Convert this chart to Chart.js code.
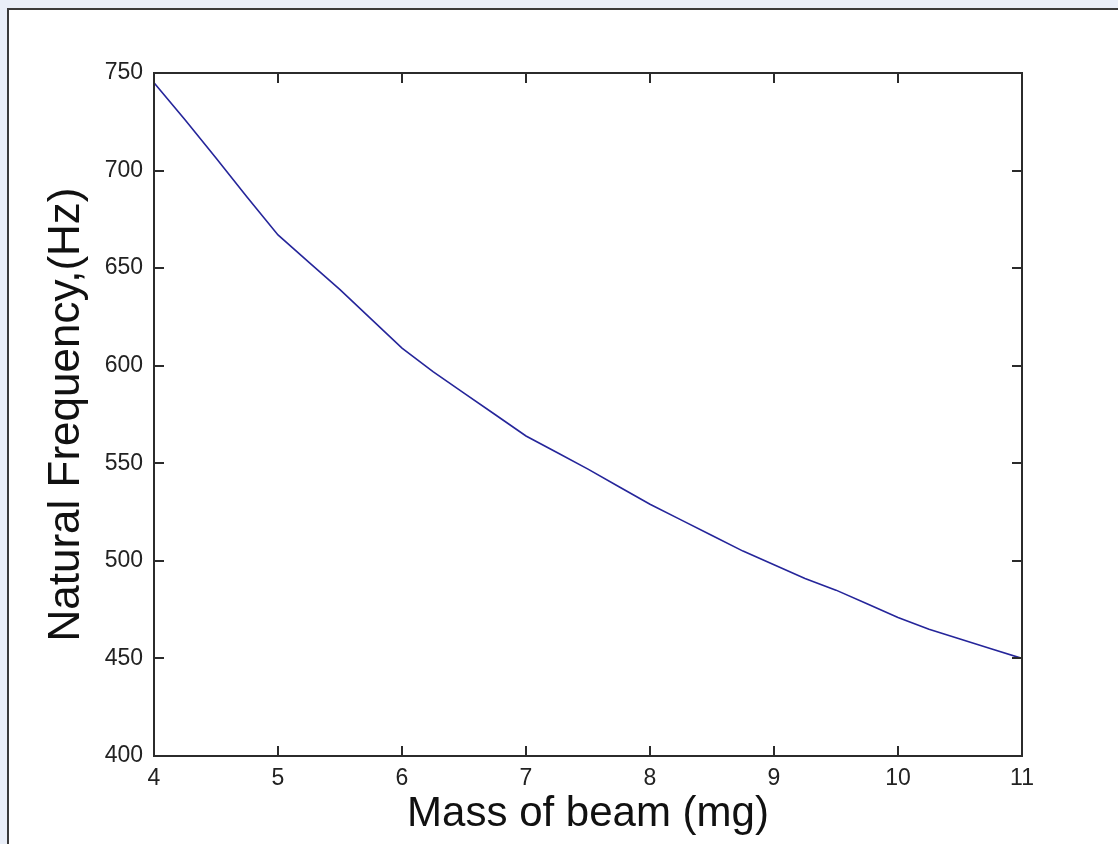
<!DOCTYPE html>
<html>
<head>
<meta charset="utf-8">
<script src="https://cdn.jsdelivr.net/npm/chart.js@4.4.1/dist/chart.umd.min.js"></script>
<style>
  html, body { margin: 0; padding: 0; background: #e9eef8; width: 1118px; height: 844px; overflow: hidden; }
  #frame { position: absolute; left: 7px; top: 8px; width: 1120px; height: 850px; background: #ffffff;
           border-top: 2px solid #3a3a3a; border-left: 2px solid #3a3a3a; }
  #c { position: absolute; left: 0; top: 0; }
</style>
</head>
<body>
<div id="frame"></div>
<canvas id="c" width="1118" height="844"></canvas>
<script>
// Mass of beam (mg)
const massValues = [4.0, 4.25, 4.5, 4.75, 5.0, 5.25, 5.5, 5.75, 6.0, 6.25, 6.5, 6.75, 7.0, 7.25, 7.5, 7.75,
                    8.0, 8.25, 8.5, 8.75, 9.0, 9.25, 9.5, 9.75, 10.0, 10.25, 10.5, 10.75, 11.0];
// Natural frequency (Hz)
const freqValues = [745, 726, 706.5, 686.5, 667, 653, 639, 624, 609, 597, 586, 575, 564, 555.5, 547, 538,
                    529, 521, 513, 505, 498, 491, 485, 478, 471, 465, 460, 455, 450];
const xTicks = [4, 5, 6, 7, 8, 9, 10, 11];
const yTicks = [400, 450, 500, 550, 600, 650, 700, 750];
const xTitle = 'Mass of beam (mg)';
const yTitle = 'Natural Frequency,(Hz)';

const points = massValues.map((m, i) => ({ x: m, y: freqValues[i] }));

const boxPlugin = {
  id: 'matlabBox',
  afterDatasetsDraw(chart) {
    const { ctx, chartArea: a, scales } = chart;
    const tl = 10;
    ctx.save();
    ctx.strokeStyle = '#2b2b2b';
    ctx.lineWidth = 2;
    ctx.strokeRect(a.left, a.top, a.right - a.left, a.bottom - a.top);
    ctx.beginPath();
    xTicks.forEach(v => {
      const px = Math.round(scales.x.getPixelForValue(v));
      ctx.moveTo(px, a.bottom); ctx.lineTo(px, a.bottom - tl);
      ctx.moveTo(px, a.top); ctx.lineTo(px, a.top + tl);
    });
    yTicks.forEach(v => {
      const py = Math.round(scales.y.getPixelForValue(v));
      ctx.moveTo(a.left, py); ctx.lineTo(a.left + tl, py);
      ctx.moveTo(a.right, py); ctx.lineTo(a.right - tl, py);
    });
    ctx.stroke();
    ctx.restore();
  }
};

const fontFamily = '"Liberation Sans", Arial, sans-serif';

new Chart(document.getElementById('c'), {
  type: 'line',
  data: {
    datasets: [{
      data: points,
      borderColor: '#25259a',
      borderWidth: 1.6,
      pointRadius: 0,
      tension: 0,
      fill: false
    }]
  },
  options: {
    responsive: false,
    animation: false,
    devicePixelRatio: 1,
    layout: { padding: { left: 0, top: 73, right: 96, bottom: 0 } },
    plugins: { legend: { display: false }, tooltip: { enabled: false } },
    scales: {
      x: {
        type: 'linear',
        min: 4, max: 11,
        afterFit(scale) { scale.height = 88; },
        afterBuildTicks(scale) { scale.ticks = xTicks.map(v => ({ value: v })); },
        grid: { display: false, drawTicks: false },
        border: { display: false },
        ticks: {
          color: '#222',
          font: { family: fontFamily, size: 23 },
          padding: 9,
          maxRotation: 0,
          autoSkip: false
        },
        title: {
          display: true,
          text: xTitle,
          color: '#111',
          font: { family: fontFamily, size: 42, lineHeight: 1 },
          padding: { top: 0, bottom: 9 }
        }
      },
      y: {
        type: 'linear',
        min: 400, max: 750,
        afterFit(scale) { scale.width = 154; },
        afterBuildTicks(scale) { scale.ticks = yTicks.map(v => ({ value: v })); },
        grid: { display: false, drawTicks: false },
        border: { display: false },
        ticks: {
          color: '#222',
          font: { family: fontFamily, size: 23 },
          padding: 11,
          autoSkip: false
        },
        title: {
          display: true,
          text: yTitle,
          color: '#111',
          font: { family: fontFamily, size: 44, lineHeight: 1 },
          padding: { top: 45, bottom: 0 }
        }
      }
    }
  },
  plugins: [boxPlugin]
});
</script>
</body>
</html>
